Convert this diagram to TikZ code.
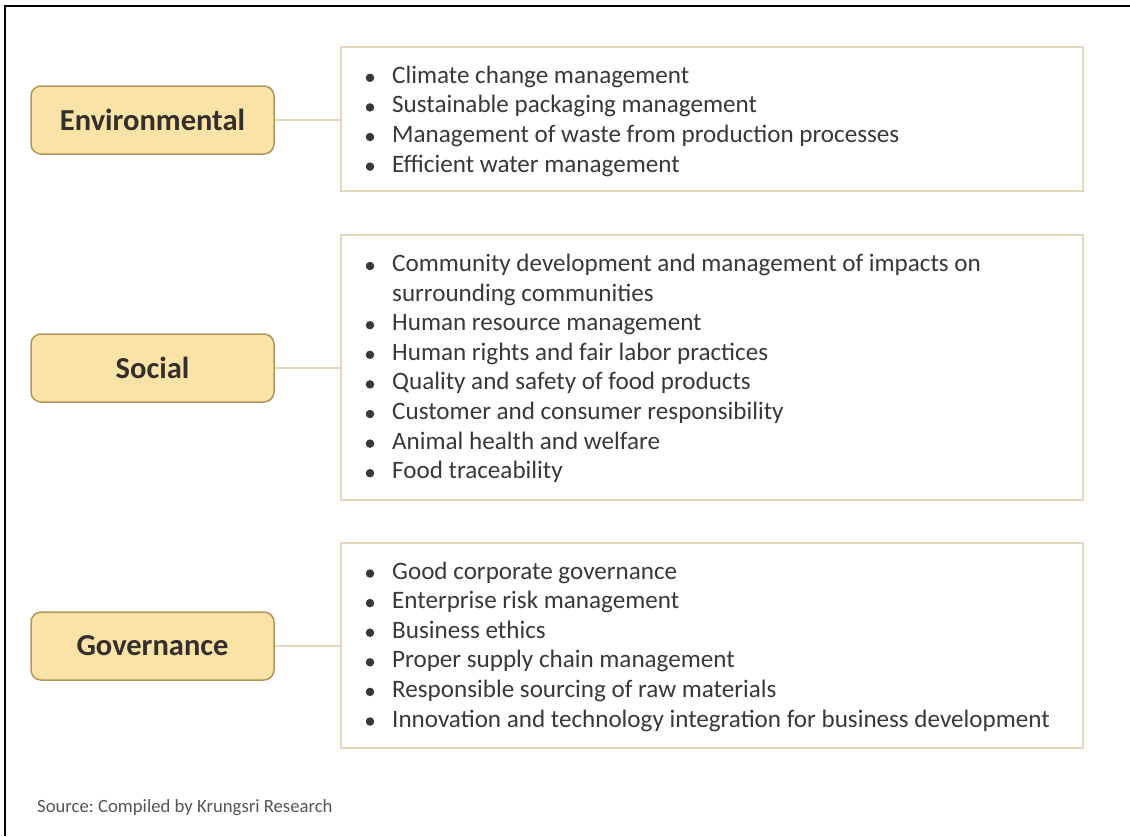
\documentclass[tikz,border=0pt]{standalone}
\usepackage{fontspec}
\setmainfont{Carlito}
\frenchspacing
\definecolor{labelfill}{HTML}{F9E3A6}
\definecolor{labeldraw}{HTML}{B3955A}
\definecolor{listdraw}{HTML}{E6D7BA}
\definecolor{txt}{HTML}{383838}
\definecolor{labeltxt}{HTML}{352F2B}
\definecolor{srctxt}{HTML}{555555}
\tikzset{
  catbox/.style={draw=labeldraw, fill=labelfill, line width=1.5pt, rounded corners=10pt,
    minimum width=243pt, minimum height=68pt, inner sep=0pt,
    text=labeltxt, font=\fontsize{30.5}{34}\selectfont\bfseries},
  listbox/.style={draw=listdraw, line width=2pt, minimum width=742pt, inner sep=0pt},
  conn/.style={draw=listdraw, line width=2pt},
  itemtext/.style={anchor=base west, inner sep=0pt, text=txt, font=\fontsize{25.1}{29}\selectfont},
  bulletdot/.style={circle, fill=txt, minimum size=8.5pt, inner sep=0pt},
}
\newcommand\bitem[3]{%
  \node[bulletdot] (#1b) at (370,{#2-5.5}) {};
  \node[itemtext] (#1) at (392,#2) {#3};}
\newcommand\citem[3]{%
  \node[itemtext] (#1) at (392,#2) {#3};}
\begin{document}
\begin{tikzpicture}[x=1pt,y=-1pt]
\useasboundingbox (0,0) rectangle (1130,836);
\coordinate (fb) at (5,836);
\coordinate (fc) at (5,6);
\coordinate (fr) at (1130,6);
\draw[black, line width=1.5pt] (fb) -- (fc) -- (fr);

% category labels
\node[catbox] (env) at (152.5,120) {Environmental};
\node[catbox] (soc) at (152.5,368) {Social};
\node[catbox] (gov) at (152.5,646) {Governance};

% list boxes
\node[listbox, minimum height=144pt] (envlist) at (712,119) {};
\node[listbox, minimum height=265pt] (soclist) at (712,367.5) {};
\node[listbox, minimum height=205pt] (govlist) at (712,645.5) {};

% connectors
\draw[conn] (env.east) -- (env.east -| envlist.west);
\draw[conn] (soc.east) -- (soc.east -| soclist.west);
\draw[conn] (gov.east) -- (gov.east -| govlist.west);

% environmental items
\bitem{e1}{83.3}{Climate change management}
\bitem{e2}{112.9}{Sustainable packaging management}
\bitem{e3}{142.5}{Management of waste from production processes}
\bitem{e4}{172.1}{Efficient water management}

% social items
\bitem{s1}{271.5}{Community development and management of impacts on}
\citem{s1c}{301.1}{surrounding communities}
\bitem{s2}{330.7}{Human resource management}
\bitem{s3}{360.3}{Human rights and fair labor practices}
\bitem{s4}{389.9}{Quality and safety of food products}
\bitem{s5}{419.5}{Customer and consumer responsibility}
\bitem{s6}{449.1}{Animal health and welfare}
\bitem{s7}{478.7}{Food traceability}

% governance items
\bitem{g1}{579}{Good corporate governance}
\bitem{g2}{608.6}{Enterprise risk management}
\bitem{g3}{638.2}{Business ethics}
\bitem{g4}{667.8}{Proper supply chain management}
\bitem{g5}{697.4}{Responsible sourcing of raw materials}
\bitem{g6}{727}{Innovation and technology integration for business development}

% source
\node[anchor=base west, inner sep=0pt, text=srctxt, font=\fontsize{18.7}{22}\selectfont] (src) at (37,812) {Source: Compiled by Krungsri Research};
\end{tikzpicture}
\end{document}
